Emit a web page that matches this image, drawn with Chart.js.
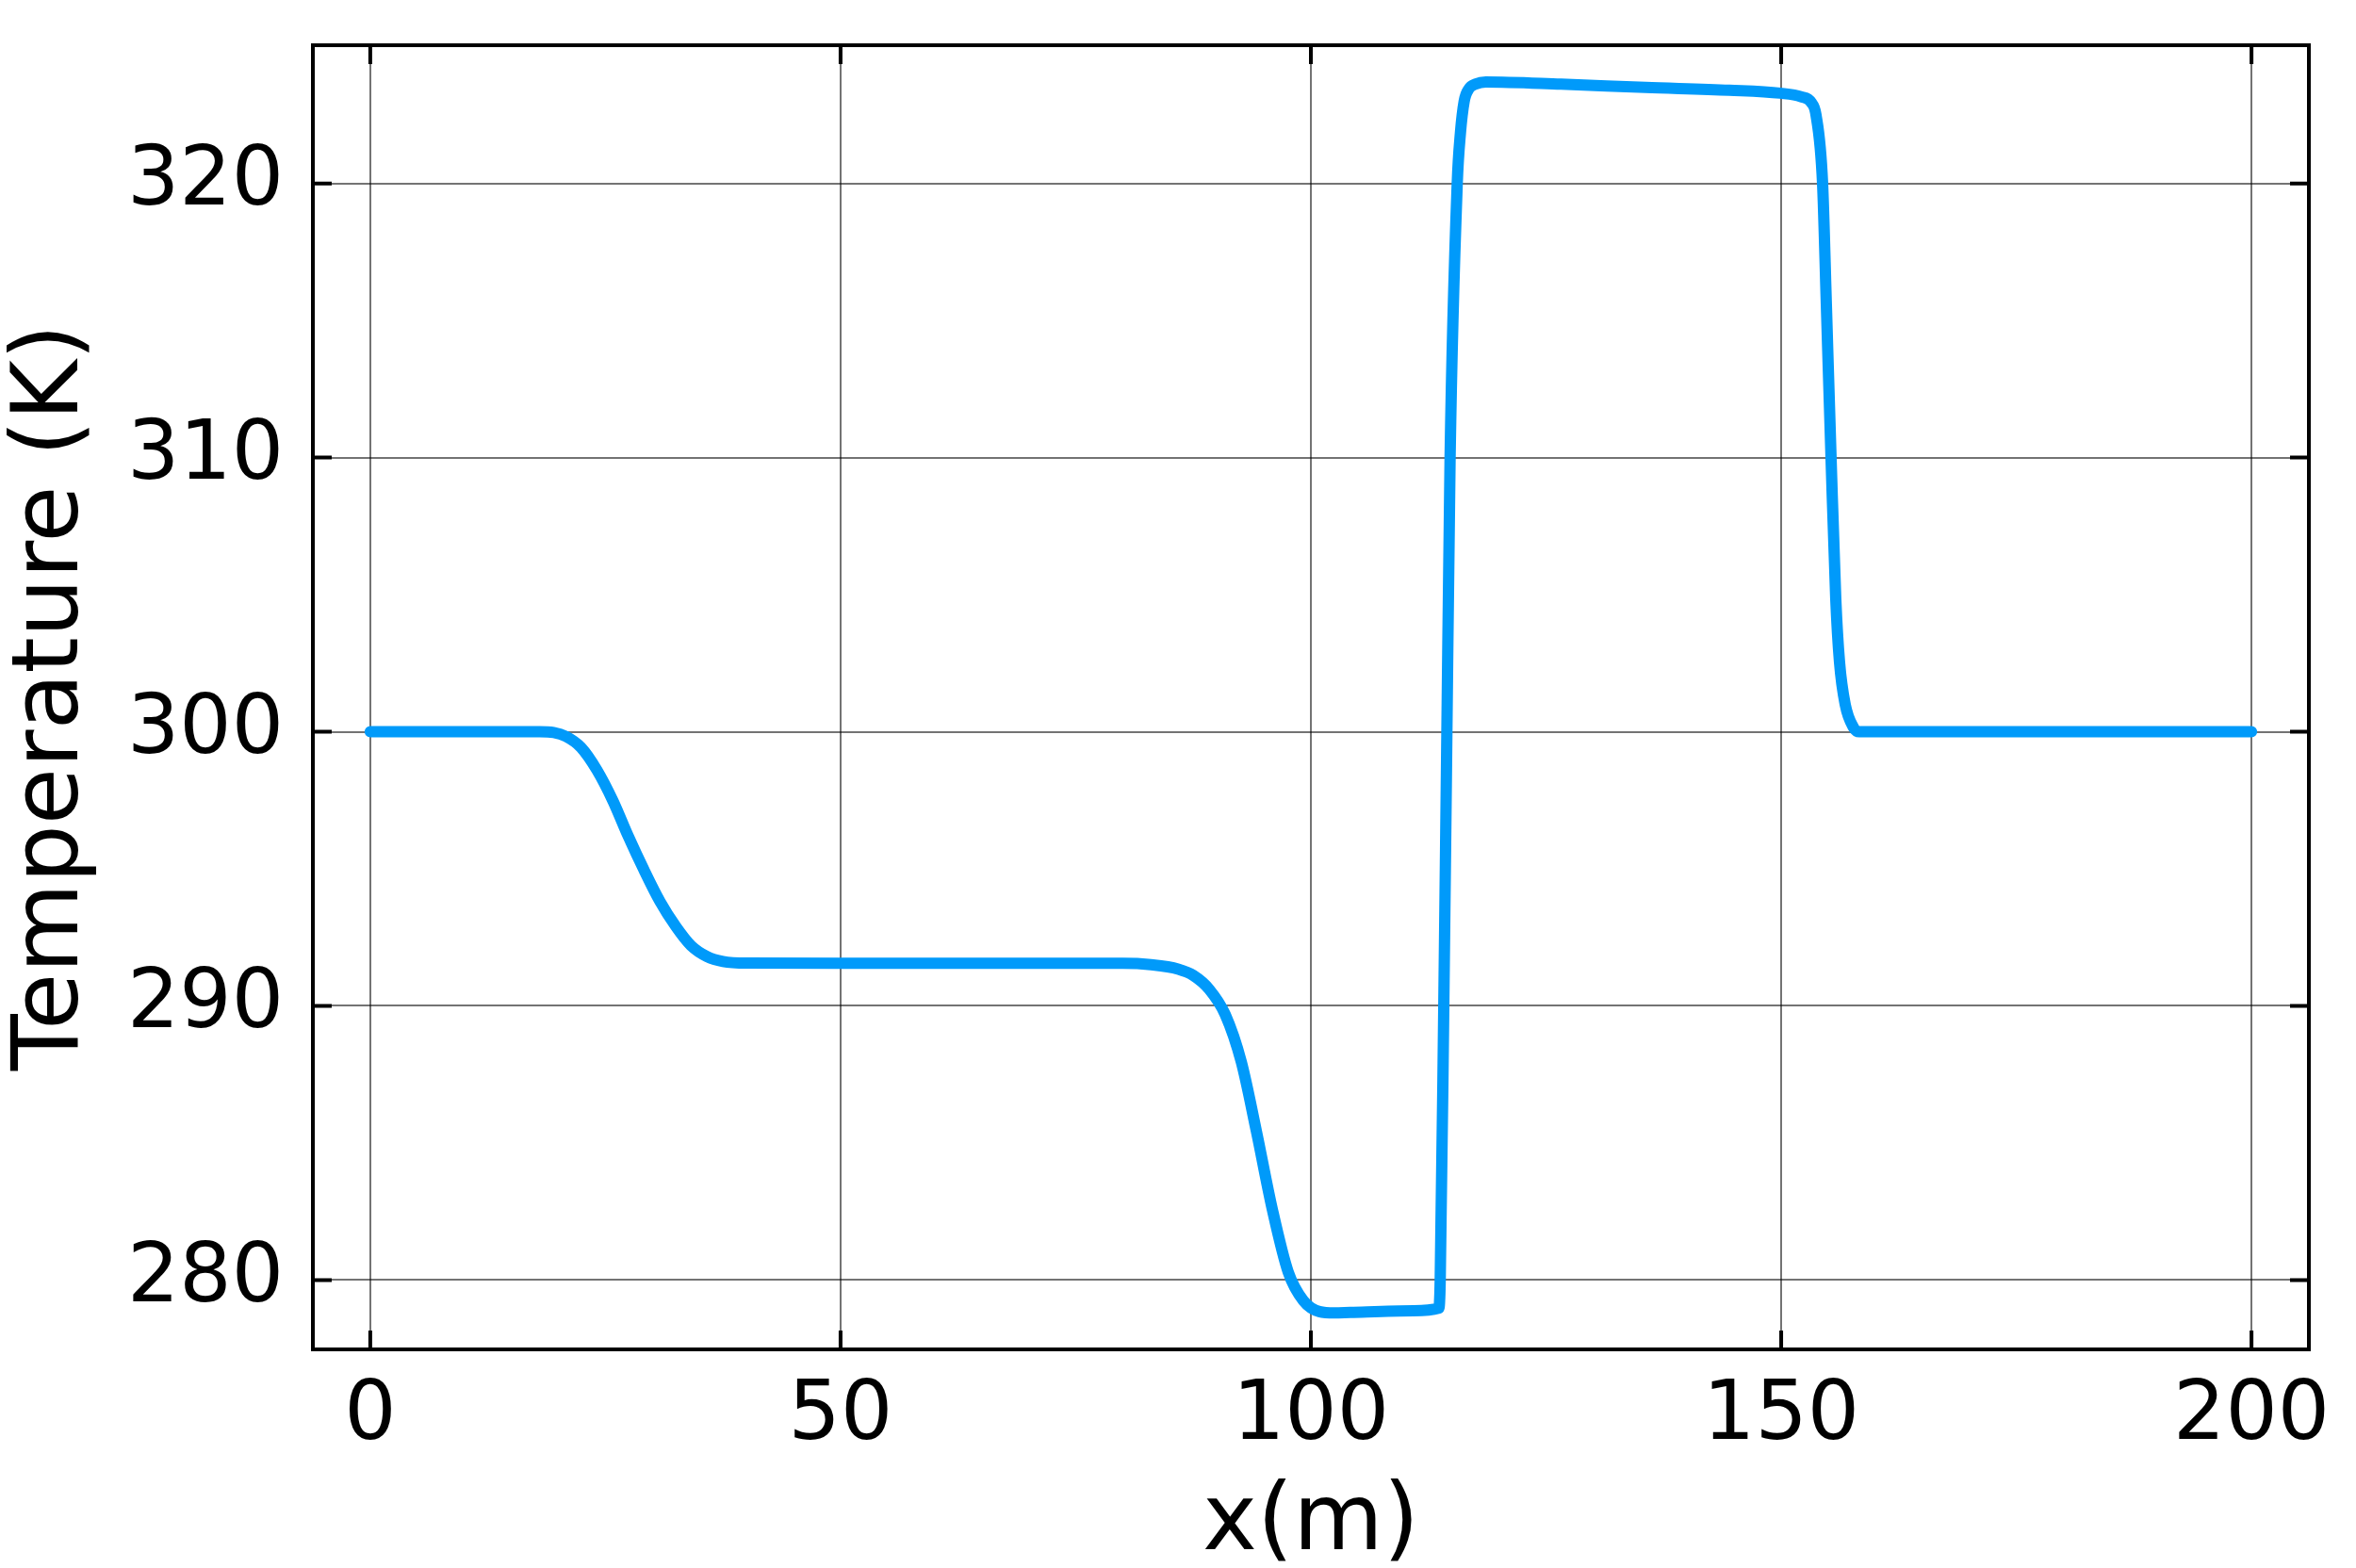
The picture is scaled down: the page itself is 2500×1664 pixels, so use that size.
<!DOCTYPE html>
<html>
<head>
<meta charset="utf-8">
<script src="https://cdn.jsdelivr.net/npm/chart.js@4.4.1/dist/chart.umd.min.js"></script>
<style>
  html, body { margin: 0; padding: 0; background: #fff; }
  #wrap { width: 2500px; height: 1664px; }
</style>
</head>
<body>
<div id="wrap"><canvas id="tempChart" width="2500" height="1664"></canvas></div>
<script>
// temperature profile
const xValues = [0, 5, 10, 15, 18, 19.5, 20.8, 22.4, 24.1, 25.8, 27.4, 29.1, 30.8, 32.5, 34.1, 35.8, 37.5, 40,
    50, 60, 70, 80, 83, 85.9, 87.5, 89.2, 90.9, 92.6, 94.2, 95.9, 97.6, 99.2, 100.9, 102.5, 104.2, 110.9,
    113.6, 113.75, 114.13, 114.46, 114.8, 115.56, 115.9, 116.3, 116.8, 117.5, 118.6, 126.6, 135.6, 144.5,
    149.9, 152.1, 153.2, 153.7, 154.4, 154.8, 155.3, 155.8, 156.2, 156.8, 157.7, 158.3, 170, 185, 200];
const tempValues = [300, 300, 300, 300, 300, 299.97, 299.83, 299.43, 298.6, 297.48, 296.21, 294.96, 293.81, 292.89, 292.2, 291.8, 291.62, 291.56,
    291.55, 291.55, 291.55, 291.55, 291.5, 291.34, 291.11, 290.6, 289.68, 287.96, 285.44, 282.58, 280.28, 279.25, 278.85, 278.8, 278.82, 278.88,
    278.97, 280, 290, 300, 310, 320, 321.84, 323.0, 323.45, 323.62, 323.7, 323.62, 323.5, 323.4,
    323.29, 323.16, 322.95, 322.5, 320, 315.6, 310, 304.86, 302.54, 301.0, 300.15, 300, 300, 300, 300];

const xTicks = [0, 50, 100, 150, 200];
const yTicks = [280, 290, 300, 310, 320];

const points = xValues.map((x, i) => ({ x: x, y: tempValues[i] }));

// box round the plot area plus inward tick marks on all four sides
const frame = {
    id: 'frame',
    afterDatasetsDraw(chart) {
        const { ctx, chartArea: a, scales: { x, y } } = chart;
        ctx.save();
        ctx.strokeStyle = '#000';
        ctx.lineWidth = 4;
        ctx.beginPath();
        xTicks.forEach(v => {
            const px = x.getPixelForValue(v);
            ctx.moveTo(px, a.bottom); ctx.lineTo(px, a.bottom - 20);
            ctx.moveTo(px, a.top); ctx.lineTo(px, a.top + 20);
        });
        yTicks.forEach(v => {
            const py = y.getPixelForValue(v);
            ctx.moveTo(a.left, py); ctx.lineTo(a.left + 20, py);
            ctx.moveTo(a.right, py); ctx.lineTo(a.right - 20, py);
        });
        ctx.stroke();
        ctx.strokeRect(a.left, a.top, a.right - a.left, a.bottom - a.top);
        ctx.restore();
    }
};

const tickFont = { family: 'DejaVu Sans', size: 87, lineHeight: 1.2 };
const titleFont = { family: 'DejaVu Sans', size: 98, lineHeight: 1 };
const gridStyle = { color: 'rgba(0,0,0,0.55)', lineWidth: 2, drawTicks: false };

new Chart(document.getElementById('tempChart').getContext('2d'), {
    type: 'line',
    data: {
        datasets: [{
            data: points,
            borderColor: '#009AFA',
            borderWidth: 12,
            borderCapStyle: 'round',
            borderJoinStyle: 'round',
            pointRadius: 0,
            fill: false,
            cubicInterpolationMode: 'monotone'
        }]
    },
    options: {
        responsive: false,
        devicePixelRatio: 1,
        animation: false,
        layout: { padding: { left: 0, top: 48, right: 50, bottom: 0 } },
        plugins: { legend: { display: false }, tooltip: { enabled: false } },
        scales: {
            x: {
                type: 'linear',
                min: -6.1,
                max: 206.1,
                afterBuildTicks: scale => { scale.ticks = xTicks.map(v => ({ value: v })); },
                afterFit: scale => { scale.height = 232; scale.paddingLeft = 0; scale.paddingRight = 0; },
                grid: gridStyle,
                border: { display: false },
                ticks: { color: '#000', font: tickFont, padding: 20, maxRotation: 0 },
                title: { display: true, text: 'x(m)', color: '#000', font: titleFont, padding: { top: 0, bottom: -4 } }
            },
            y: {
                type: 'linear',
                min: 277.47,
                max: 325.04,
                afterBuildTicks: scale => { scale.ticks = yTicks.map(v => ({ value: v })); },
                afterFit: scale => { scale.width = 332; scale.paddingTop = 0; scale.paddingBottom = 0; },
                grid: gridStyle,
                border: { display: false },
                ticks: { color: '#000', font: tickFont, padding: 31 },
                title: { display: true, text: 'Temperature (K)', color: '#000', font: titleFont, padding: { top: 8, bottom: 0 } }
            }
        }
    },
    plugins: [frame]
});
</script>
</body>
</html>
